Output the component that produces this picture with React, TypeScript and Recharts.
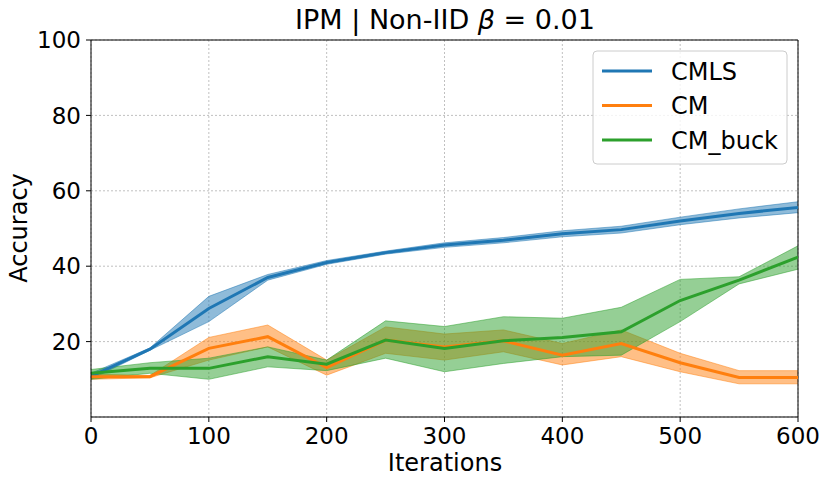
import React from 'react';
import { ComposedChart, Line, Area, XAxis, YAxis, CartesianGrid, ReferenceLine } from 'recharts';

const iterations = [0, 50, 100, 150, 200, 250, 300, 350, 400, 450, 500, 550, 600];

const cmlsMean = [10.8, 18.0, 28.8, 37.0, 41.0, 43.6, 45.6, 46.9, 48.6, 49.7, 52.0, 54.0, 55.6];
const cmlsLow = [10.0, 17.7, 25.3, 36.3, 40.5, 43.2, 45.0, 46.2, 47.8, 48.8, 51.0, 52.8, 54.2];
const cmlsHigh = [11.6, 18.3, 32.0, 37.8, 41.5, 44.0, 46.2, 47.6, 49.4, 50.6, 53.0, 55.2, 57.1];

const cmMean = [10.7, 10.7, 18.2, 21.3, 13.1, 20.4, 18.6, 20.2, 16.4, 19.5, 14.4, 10.5, 10.5];
const cmLow = [10.0, 10.4, 15.1, 18.6, 11.1, 16.9, 15.1, 17.3, 13.8, 16.0, 12.0, 8.8, 8.8];
const cmHigh = [11.4, 11.0, 21.1, 24.4, 15.1, 23.9, 22.0, 23.1, 19.5, 23.1, 16.9, 12.3, 12.3];

const buckMean = [11.6, 12.9, 12.9, 16.0, 14.0, 20.4, 18.2, 20.2, 21.1, 22.6, 30.9, 36.3, 42.4];
const buckLow = [10.0, 11.6, 10.0, 13.3, 12.3, 15.6, 12.0, 14.2, 16.0, 16.4, 25.3, 35.3, 39.2];
const buckHigh = [12.6, 14.4, 15.6, 18.6, 15.1, 25.5, 24.0, 26.6, 26.2, 29.1, 36.5, 37.2, 45.4];

const xTicks = [0, 100, 200, 300, 400, 500, 600];
const yTicks = [20, 40, 60, 80, 100];

const seriesNames = ['CMLS', 'CM', 'CM_buck'];
const seriesColors = ['#1f77b4', '#ff7f0e', '#2ca02c'];

const data = iterations.map((it, i) => ({
  it,
  cmls: cmlsMean[i],
  cmlsBand: [cmlsLow[i], cmlsHigh[i]],
  cm: cmMean[i],
  cmBand: [cmLow[i], cmHigh[i]],
  buck: buckMean[i],
  buckBand: [buckLow[i], buckHigh[i]],
}));

const FONT = 'DejaVu Sans';

export default function App() {
  const tickStyle = { fontSize: 23, fill: '#000', fontFamily: FONT };
  return (
    <div style={{ position: 'absolute', left: 0, top: 0, width: 831, height: 485, background: '#fff' }}>
      <ComposedChart
        width={831}
        height={485}
        data={data}
        margin={{ top: 40, right: 33, bottom: 28, left: 31 }}
      >
        <CartesianGrid stroke="#b0b0b0" strokeDasharray="2 2" strokeWidth={0.8} verticalPoints={undefined} />
        <XAxis
          dataKey="it"
          type="number"
          domain={[0, 600]}
          ticks={xTicks}
          height={40}
          tick={tickStyle}
          tickSize={5}
          tickMargin={6}
          stroke="#000"
          allowDataOverflow
        />
        <YAxis
          type="number"
          domain={[0, 100]}
          ticks={yTicks}
          width={60}
          tick={tickStyle}
          tickSize={5}
          tickMargin={5}
          stroke="#000"
          allowDataOverflow
        />
        <ReferenceLine y={100} stroke="#000" strokeWidth={1} />
        <ReferenceLine x={600} stroke="#000" strokeWidth={1} />
        <Area dataKey="cmlsBand" type="linear" fill={seriesColors[0]} fillOpacity={0.5} stroke={seriesColors[0]} strokeOpacity={0.5} strokeWidth={1} isAnimationActive={false} activeDot={false} />
        <Area dataKey="cmBand" type="linear" fill={seriesColors[1]} fillOpacity={0.5} stroke={seriesColors[1]} strokeOpacity={0.5} strokeWidth={1} isAnimationActive={false} activeDot={false} />
        <Area dataKey="buckBand" type="linear" fill={seriesColors[2]} fillOpacity={0.5} stroke={seriesColors[2]} strokeOpacity={0.5} strokeWidth={1} isAnimationActive={false} activeDot={false} />
        <Line dataKey="cmls" type="linear" stroke={seriesColors[0]} strokeWidth={3} dot={false} isAnimationActive={false} />
        <Line dataKey="cm" type="linear" stroke={seriesColors[1]} strokeWidth={3} dot={false} isAnimationActive={false} />
        <Line dataKey="buck" type="linear" stroke={seriesColors[2]} strokeWidth={3} dot={false} isAnimationActive={false} />
      </ComposedChart>
      <svg width={831} height={485} style={{ position: 'absolute', left: 0, top: 0, pointerEvents: 'none' }}>
        <text x={445} y={29} textAnchor="middle" fontSize={27} fontFamily={FONT} fill="#000">
          IPM | Non-IID <tspan fontStyle="italic">β</tspan> = 0.01
        </text>
        <text x={445} y={471} textAnchor="middle" fontSize={24} fontFamily={FONT} fill="#000">Iterations</text>
        <text x={27} y={228} textAnchor="middle" fontSize={24} fontFamily={FONT} fill="#000" transform="rotate(-90, 27, 228)">Accuracy</text>
        <rect x={593} y={51} width={194} height={113} rx={4} fill="#fff" fillOpacity={0.8} stroke="#cccccc" strokeWidth={1} />
        {seriesNames.map((name, i) => (
          <g key={name}>
            <line x1={602} x2={652} y1={71 + i * 34.5} y2={71 + i * 34.5} stroke={seriesColors[i]} strokeWidth={3} />
            <text x={671} y={79.5 + i * 34.5} fontSize={24} fontFamily={FONT} fill="#000">{name}</text>
          </g>
        ))}
      </svg>
    </div>
  );
}
